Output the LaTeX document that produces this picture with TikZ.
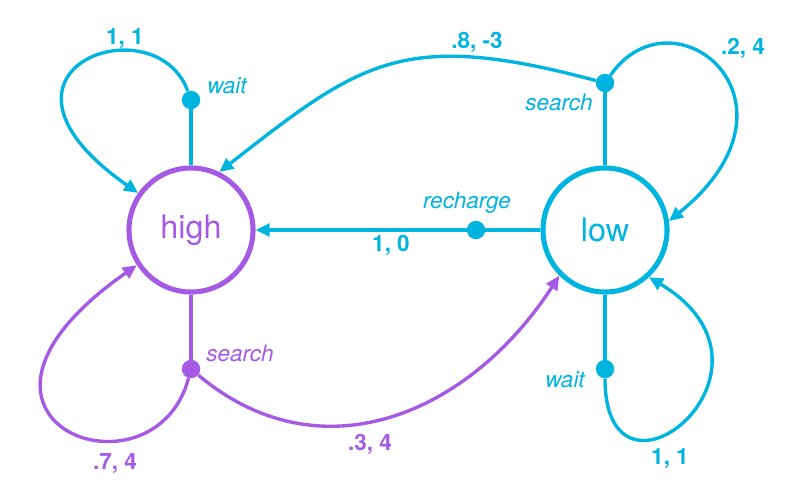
\documentclass[tikz,border=0pt]{standalone}
\usepackage{fontspec}
\setmainfont{TeX Gyre Heros}
\usetikzlibrary{arrows.meta,positioning,calc}
\definecolor{lowc}{HTML}{00B4E0}
\definecolor{highc}{HTML}{A55AE6}

\begin{document}
\begin{tikzpicture}
   [x=0.025cm,y=0.025cm,
      state/.style={shape=circle,draw,line width=3.6pt,inner sep=0pt,minimum
      size=3.1cm,font=\fontsize{23}{28}\selectfont},
act/.style={shape=circle,fill,inner sep=0pt,minimum size=.46cm},
actlbl/.style={font=\fontsize{16}{19}\selectfont\itshape,inner sep=1pt},
rwd/.style={font=\fontsize{16}{19}\selectfont\bfseries,inner sep=1pt},
tedge/.style={line width=2.4pt,>={Triangle[length=10pt,width=9pt]}}]
\useasboundingbox (0,0) rectangle (787,483);
%%
%% states
\node (high) [state,draw=highc,text=highc] at (191,253) {high};
\node (low) [state,draw=lowc,text=lowc] at (605,253) {low};
%%
%% actions
\node (hw) [act,lowc] at (191,383) {};
\node (hs) [act,highc] at (191,114) {};
\node (ls) [act,lowc] at (605,400) {};
\node (lw) [act,lowc] at (605,114) {};
\node (rc) [act,lowc] at (476,253) {};
\node (hwl) [actlbl,lowc] at (227,397) {wait};
\node (hsl) [actlbl,highc] at (240,130) {search};
\node (lsl) [actlbl,lowc] at (559,381) {search};
\node (lwl) [actlbl,lowc] at (565,103) {wait};
\node (rcl) [actlbl,lowc] at (467,280) {recharge};
%%
%% rewards
\node (hwr) [rwd,lowc] at (125,445) {1, 1};
\node (lsr) [rwd,lowc] at (743,435) {.2, 4};
\node (lhr) [rwd,lowc] at (477,441) {.8, -3};
\node (rcr) [rwd,lowc] at (391,238) {1, 0};
\node (hsr) [rwd,highc] at (115,20) {.7, 4};
\node (hlr) [rwd,highc] at (370,39) {.3, 4};
\node (lwr) [rwd,lowc] at (670,25) {1, 1};
%%
\draw[tedge,lowc] (high) -- (hw);
\path (hw) edge[tedge,lowc,->,out=110,in=145,out distance=2.375cm,in distance=5.375cm] (high.145);
\draw[tedge,lowc] (low) -- (ls);
\path (ls) edge[tedge,lowc,->,out=55,in=39,out distance=2.75cm,in distance=4.75cm] (low.8);
\path (ls) edge[tedge,lowc,->,out=165,in=38,out distance=5cm,in distance=4.5cm] (high.64);
\draw[tedge,lowc] (low) -- (rc);
\draw[tedge,lowc,->] (rc) -- (high);
\draw[tedge,highc] (high) -- (hs);
\path (hs) edge[tedge,highc,->,out=255,in=215,out distance=3.375cm,in distance=6.75cm] (high.213);
\path (hs) edge[tedge,highc,->,out=-40,in=237,out distance=4cm,in distance=4.125cm] (low.225);
\draw[tedge,lowc] (low) -- (lw);
\path (lw) edge[tedge,lowc,->,out=270,in=-31,out distance=3.75cm,in distance=4.5cm] (low.313);
\end{tikzpicture}
\end{document}
